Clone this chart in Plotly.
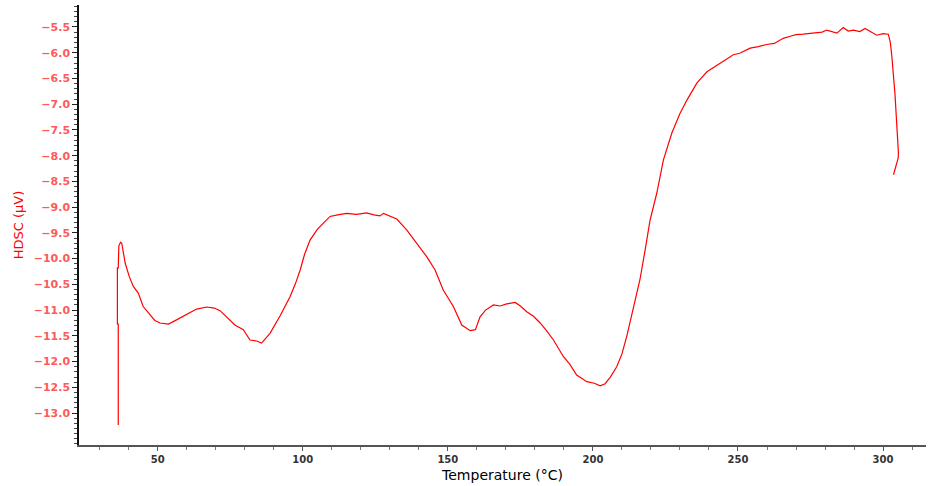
import plotly.graph_objects as go

# HDSC trace: temperature (°C) and signal (µV)
temperature = [
    36.4, 36.4, 36.1, 36.1, 36.4, 36.6, 37.2, 37.6, 38.8, 40.2, 41.6, 43.3, 45.0,
    47.3, 49.0, 50.8, 53.7, 56.5, 60.0, 63.4, 66.9, 69.5, 71.5, 73.8, 76.6,
    79.5, 81.8, 84.1, 85.8, 88.7, 92.2, 95.6, 97.5, 99.1, 100.6, 102.5, 103.8, 105.0,
    107.1, 109.4, 112.0, 115.1, 118.5, 122.0, 124.5, 126.6, 127.8, 130.0,
    132.4, 135.8, 139.3, 142.7, 145.6, 148.4, 151.9, 154.8, 157.7, 159.5,
    161.1, 163.0, 165.7, 168.0, 170.3, 173.2, 175.0, 177.2, 179.5, 181.8,
    184.0, 186.4, 189.8, 192.0, 194.4, 197.9, 200.5, 202.5, 204.2, 206.0,
    208.2, 210.0, 211.7, 213.9, 216.2, 218.0, 219.7, 222.0, 224.3, 227.2,
    230.0, 232.4, 235.8, 239.3, 243.8, 248.4, 250.6, 254.2, 257.0, 259.9,
    262.5, 265.6, 268.0, 270.0, 272.5, 275.0, 277.2, 279.0, 280.6, 282.5,
    284.1, 286.3, 288.0, 289.8, 292.0, 293.8, 296.0, 297.8, 300.0, 301.8,
    302.5, 303.0, 304.1, 304.9, 305.3, 305.2, 304.7, 304.1, 303.6,
]
signal = [
    -13.23, -11.27, -11.27, -10.18, -10.18, -9.75, -9.68, -9.70, -10.09, -10.35, -10.54, -10.67, -10.93,
    -11.09, -11.20, -11.25, -11.27, -11.19, -11.08, -10.98, -10.94, -10.96, -11.01, -11.13, -11.29,
    -11.38, -11.58, -11.60, -11.64, -11.45, -11.11, -10.74, -10.48, -10.22, -9.92, -9.64, -9.52, -9.43,
    -9.31, -9.18, -9.15, -9.12, -9.14, -9.11, -9.15, -9.17, -9.12, -9.18,
    -9.23, -9.44, -9.70, -9.96, -10.22, -10.61, -10.93, -11.29, -11.40, -11.38,
    -11.13, -11.00, -10.90, -10.92, -10.88, -10.85, -10.92, -11.03, -11.12, -11.25,
    -11.40, -11.58, -11.90, -12.05, -12.26, -12.39, -12.42, -12.47, -12.43, -12.30,
    -12.10, -11.85, -11.50, -10.99, -10.41, -9.83, -9.25, -8.73, -8.08, -7.56,
    -7.18, -6.92, -6.59, -6.37, -6.21, -6.04, -6.01, -5.91, -5.88, -5.84,
    -5.82, -5.72, -5.68, -5.65, -5.64, -5.63, -5.61, -5.60, -5.56, -5.60,
    -5.62, -5.51, -5.58, -5.56, -5.59, -5.53, -5.60, -5.66, -5.63, -5.64,
    -5.80, -6.05, -6.80, -7.44, -7.95, -8.05, -8.15, -8.27, -8.37,
]

y_ticks = [-5.5, -6.0, -6.5, -7.0, -7.5, -8.0, -8.5, -9.0, -9.5, -10.0,
           -10.5, -11.0, -11.5, -12.0, -12.5, -13.0]
x_ticks = [50, 100, 150, 200, 250, 300]

fig = go.Figure(
    go.Scatter(
        x=temperature,
        y=signal,
        mode="lines",
        line=dict(color="#ff0000", width=1.2),
        hoverinfo="skip",
    )
)

fig.update_layout(
    width=928,
    height=486,
    margin=dict(l=79, r=2, t=5, b=41),
    paper_bgcolor="white",
    plot_bgcolor="white",
    showlegend=False,
    font=dict(family="DejaVu Sans", size=11),
)

fig.update_xaxes(
    range=[22.87, 314.8],
    tickvals=x_ticks,
    ticks="outside",
    ticklen=4,
    tickcolor="#555555",
    showline=True,
    linecolor="#555555",
    linewidth=1.5,
    showgrid=False,
    zeroline=False,
    tickfont=dict(family="DejaVu Sans", size=10, color="#333333", weight="bold"),
    minor=dict(dtick=10, ticks="outside", ticklen=3, tickcolor="#777777", showgrid=False),
    title=dict(text="Temperature (°C)", font=dict(family="DejaVu Sans", size=14, color="#000000"),
               standoff=6),
)

fig.update_yaxes(
    range=[-13.62, -5.073],
    tickvals=y_ticks,
    tickformat=".1f",
    ticks="outside",
    ticklen=5,
    tickcolor="#222222",
    showline=True,
    linecolor="#111111",
    linewidth=1.5,
    showgrid=False,
    zeroline=False,
    tickfont=dict(family="DejaVu Sans", size=11, color="#ff5a5a", weight="bold"),
    minor=dict(dtick=0.1, ticks="outside", ticklen=3, tickcolor="#444444", showgrid=False),
    title=dict(text="HDSC (µV)", font=dict(family="DejaVu Sans", size=13, color="#ff0000"),
               standoff=7),
)

fig.write_html("out.html")
